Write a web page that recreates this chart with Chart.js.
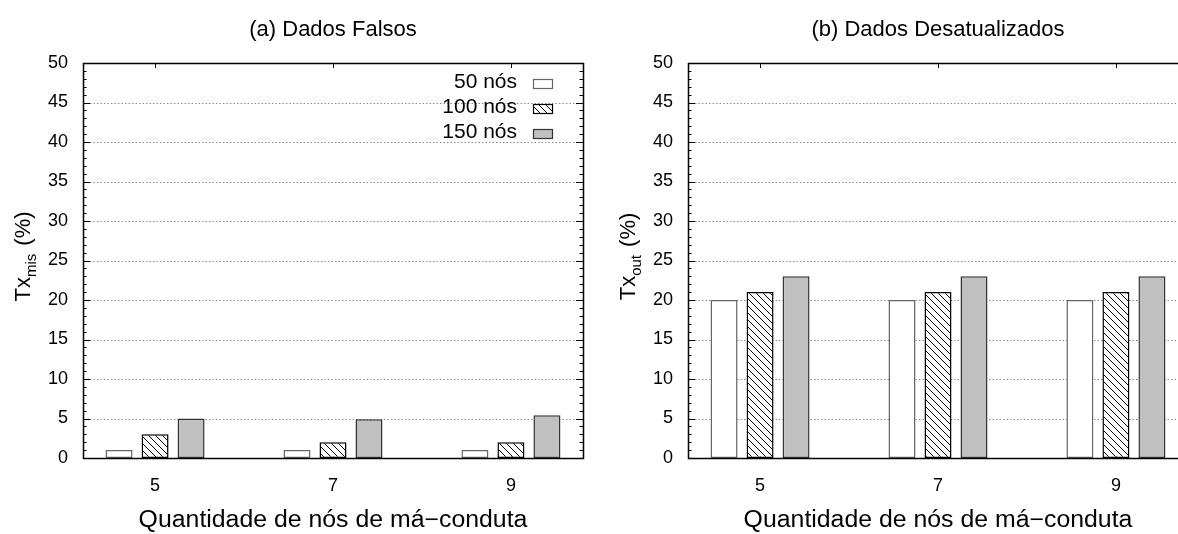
<!DOCTYPE html>
<html><head><meta charset="utf-8">
<script src="https://cdn.jsdelivr.net/npm/chart.js@4"></script>
<style>
html,body{margin:0;padding:0;background:#fff;overflow:hidden;width:1178px;height:534px;}
#wa{position:absolute;left:0;top:0;width:589px;height:534px;}
#wb{position:absolute;left:589px;top:0;width:589px;height:534px;overflow:hidden;}
canvas{display:block;}
</style></head><body>
<div id="wa"><canvas id="ca" width="589" height="534"></canvas></div>
<div id="wb"><canvas id="cb" width="610" height="534"></canvas></div>
<script>
// ---- data ----
const categories = [5, 7, 9];
const xTickLabels = ['5', '7', '9'];
const yTicks = [0, 5, 10, 15, 20, 25, 30, 35, 40, 45, 50];
const seriesNames = ['50 nós', '100 nós', '150 nós'];
const falsos50 = [1, 1, 1];
const falsos100 = [3, 2, 2];
const falsos150 = [5, 4.9, 5.4];
const desat50 = [20, 20, 20];
const desat100 = [21, 21, 21];
const desat150 = [23, 23, 23];
const titleA = '(a) Dados Falsos';
const titleB = '(b) Dados Desatualizados';
const xTitle = 'Quantidade de nós de má−conduta';
const yMainA = 'Tx', ySubA = 'mis';
const yMainB = 'Tx', ySubB = 'out';
const yUnit = ' (%)';

const FONT = "'Liberation Sans', Arial, Helvetica, sans-serif";
Chart.defaults.font.family = FONT;
Chart.defaults.color = '#000';

function hatchPattern() {
  const p = 7;
  const c = document.createElement('canvas');
  c.width = p; c.height = p;
  const g = c.getContext('2d');
  g.fillStyle = '#fff'; g.fillRect(0, 0, p, p);
  g.strokeStyle = '#000'; g.lineWidth = 1;
  g.beginPath();
  g.moveTo(-1, -1); g.lineTo(p + 1, p + 1);
  g.moveTo(-1, p - 1); g.lineTo(1, p + 1);
  g.moveTo(p - 1, -1); g.lineTo(p + 1, 1);
  g.stroke();
  return c;
}
const hatchCanvas = hatchPattern();

function makeDatasets(ctx2d, a, b, c) {
  const pat = ctx2d.createPattern(hatchCanvas, 'repeat');
  const mk = (arr) => categories.map((x, i) => ({ x: x, y: arr[i] }));
  return [
    { label: seriesNames[0], data: mk(a), backgroundColor: '#ffffff', borderColor: '#666666', borderWidth: 1.5, borderSkipped: false },
    { label: seriesNames[1], data: mk(b), backgroundColor: pat, borderColor: '#000000', borderWidth: 1.5, borderSkipped: false },
    { label: seriesNames[2], data: mk(c), backgroundColor: '#c0c0c0', borderColor: '#333333', borderWidth: 1.5, borderSkipped: false }
  ];
}

function decoPlugin(cfg) {
  return {
    id: 'deco',
    beforeDatasetsDraw(chart) {
      const { ctx, chartArea: a, scales: { x, y } } = chart;
      ctx.save();
      ctx.strokeStyle = '#8c8c8c'; ctx.lineWidth = 1; ctx.setLineDash([1.5, 2]);
      yTicks.forEach(v => {
        if (v === y.min || v === y.max) return;
        const py = Math.round(y.getPixelForValue(v)) + 0.5;
        ctx.beginPath(); ctx.moveTo(a.left, py); ctx.lineTo(a.right, py); ctx.stroke();
      });
      ctx.setLineDash([]);
      ctx.strokeStyle = '#000';
      categories.forEach(v => {
        const px = Math.round(x.getPixelForValue(v)) + 0.5;
        ctx.beginPath(); ctx.moveTo(px, a.bottom); ctx.lineTo(px, a.bottom - 5); ctx.stroke();
      });
      ctx.restore();
    },
    afterDatasetsDraw(chart) {
      const { ctx, chartArea: a, scales: { x, y } } = chart;
      ctx.save();
      ctx.strokeStyle = '#000'; ctx.lineWidth = 1;
      for (let v = y.min; v <= y.max; v += 1) {
        const major = yTicks.indexOf(v) >= 0;
        const len = major ? 7 : 3.5;
        const py = Math.round(y.getPixelForValue(v)) + 0.5;
        ctx.beginPath();
        ctx.moveTo(a.left, py); ctx.lineTo(a.left + len, py);
        ctx.moveTo(a.right, py); ctx.lineTo(a.right - len, py);
        ctx.stroke();
      }
      categories.forEach(v => {
        const px = Math.round(x.getPixelForValue(v)) + 0.5;
        ctx.beginPath(); ctx.moveTo(px, a.top); ctx.lineTo(px, a.top + 5); ctx.stroke();
      });
      ctx.lineWidth = 1.5;
      ctx.strokeRect(Math.round(a.left) + 0.5, Math.round(a.top) + 0.5, Math.round(a.right - a.left), Math.round(a.bottom - a.top));
      const cx = (a.left + a.right) / 2;
      ctx.fillStyle = '#000';
      ctx.textAlign = 'center'; ctx.textBaseline = 'alphabetic';
      ctx.font = '22px ' + FONT;
      ctx.fillText(cfg.title, cx, 36);
      // x title, slightly wide letterforms as in the reference
      ctx.save();
      ctx.font = '23px ' + FONT;
      ctx.translate(cx, 527);
      ctx.scale(1.08, 1);
      ctx.fillText(xTitle, 0, 0);
      ctx.restore();
      const bigF = '22px ' + FONT, smallF = '15px ' + FONT;
      ctx.font = bigF; const w1 = ctx.measureText(cfg.yMain).width; const w3 = ctx.measureText(yUnit).width;
      ctx.font = smallF; const w2 = ctx.measureText(cfg.ySub).width;
      const total = w1 + w2 + w3 + 2;
      const cy = (a.top + a.bottom) / 2 - 4;
      ctx.translate(a.left - 53, cy);
      ctx.rotate(-Math.PI / 2);
      ctx.textAlign = 'left';
      let sx = -total / 2;
      ctx.font = bigF; ctx.fillText(cfg.yMain, sx, 0); sx += w1;
      ctx.font = smallF; ctx.fillText(cfg.ySub, sx, 6); sx += w2 + 2;
      ctx.font = bigF; ctx.fillText(yUnit, sx, 0);
      ctx.setTransform(1, 0, 0, 1, 0, 0);
      if (cfg.legend) {
        const ds = chart.data.datasets;
        ctx.font = '21px ' + FONT;
        ctx.textAlign = 'right'; ctx.textBaseline = 'middle';
        ds.forEach((d, i) => {
          const ty = 82 + 25 * i;
          ctx.fillStyle = '#000';
          ctx.fillText(d.label, 517, ty);
          ctx.fillStyle = d.backgroundColor;
          ctx.fillRect(533, ty - 3, 20, 9);
          ctx.strokeStyle = d.borderColor; ctx.lineWidth = 1.2;
          ctx.strokeRect(533.5, ty - 3 + 0.5, 19, 9);
        });
      }
      ctx.restore();
    }
  };
}

function makeChart(id, yAxisWidth, padRight, sets, cfg) {
  const el = document.getElementById(id);
  const g = el.getContext('2d');
  return new Chart(el, {
    type: 'bar',
    data: { datasets: makeDatasets(g, sets[0], sets[1], sets[2]) },
    options: {
      responsive: false, animation: false, devicePixelRatio: 1,
      layout: { padding: { left: 0, right: padRight, top: 63, bottom: 0 } },
      categoryPercentage: 0.607, barPercentage: 0.75,
      plugins: { legend: { display: false }, title: { display: false }, tooltip: { enabled: false } },
      scales: {
        x: {
          type: 'linear', position: 'bottom', min: 4.19, max: 9.81, offset: false,
          grid: { display: false, drawTicks: false, offset: false }, border: { display: false },
          afterBuildTicks: s => { s.ticks = categories.map(v => ({ value: v })); },
          afterFit: s => { s.height = 76; },
          ticks: { font: { size: 18 }, color: '#000', padding: 17, maxRotation: 0, autoSkip: false,
            callback: v => xTickLabels[categories.indexOf(v)] }
        },
        y: {
          type: 'linear', position: 'left', min: 0, max: 50,
          grid: { display: false, drawTicks: false }, border: { display: false },
          afterBuildTicks: s => { s.ticks = yTicks.map(v => ({ value: v })); },
          afterFit: s => { s.width = yAxisWidth; },
          ticks: { font: { size: 18 }, color: '#000', padding: 15 }
        }
      }
    },
    plugins: [decoPlugin(cfg)]
  });
}

makeChart('ca', 83, 6, [falsos50, falsos100, falsos150], { title: titleA, yMain: yMainA, ySub: ySubA, legend: true });
makeChart('cb', 99, 11, [desat50, desat100, desat150], { title: titleB, yMain: yMainB, ySub: ySubB, legend: false });
</script>
</body></html>
